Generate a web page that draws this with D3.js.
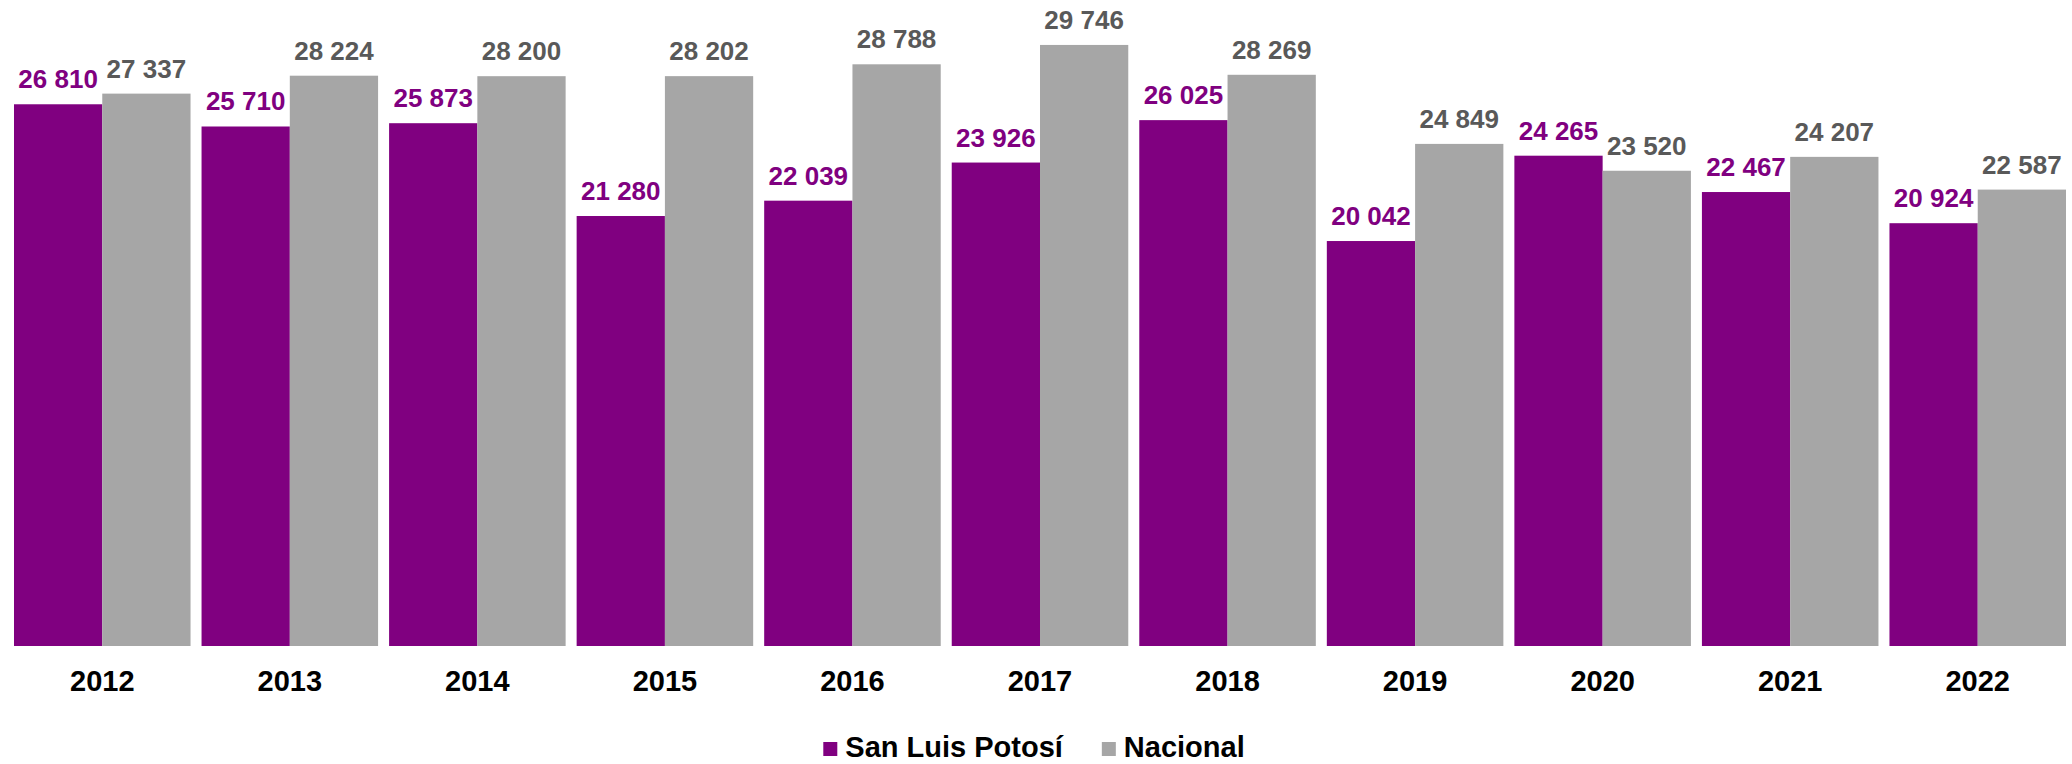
<!DOCTYPE html>
<html>
<head>
<meta charset="utf-8">
<script src="https://cdn.jsdelivr.net/npm/d3@7"></script>
<style>
  body { margin: 0; background: #fff; }
  svg { display: block; font-family: Arial, "Liberation Sans", sans-serif; }
</style>
</head>
<body>
<svg></svg>
<script>
var WIDTH = 2072;
var HEIGHT = 764;

var years = ["2012", "2013", "2014", "2015", "2016", "2017", "2018", "2019", "2020", "2021", "2022"];
var slpValues = [26810, 25710, 25873, 21280, 22039, 23926, 26025, 20042, 24265, 22467, 20924];
var nacionalValues = [27337, 28224, 28200, 28202, 28788, 29746, 28269, 24849, 23520, 24207, 22587];
var seriesNames = ["San Luis Potosí", "Nacional"];
var barColors = ["#800080", "#a6a6a6"];
var labelColors = ["#800080", "#595959"];

var svg = d3.select("svg")
    .attr("width", WIDTH)
    .attr("height", HEIGHT);

var x = d3.scaleBand()
    .domain(years)
    .range([8.5, 2071.5])
    .paddingInner(0.0587)
    .paddingOuter(0.0293);

var xSeries = d3.scaleBand()
    .domain([0, 1])
    .range([0, x.bandwidth()]);

var y = d3.scaleLinear()
    .domain([0, 32000])
    .range([646, -0.6]);

var fmt = d3.formatLocale({decimal: ".", thousands: " ", grouping: [3], currency: ["", ""]}).format(",d");

var rows = years.map(function(yr, i) {
    return {year: yr, values: [slpValues[i], nacionalValues[i]]};
});

var groups = svg.append("g")
    .selectAll("g")
    .data(rows)
    .enter()
    .append("g")
    .attr("transform", function(d) { return "translate(" + x(d.year) + ",0)"; });

var cells = groups.selectAll("g")
    .data(function(d) { return d.values.map(function(v, s) { return {s: s, v: v}; }); })
    .enter()
    .append("g");

cells.append("rect")
    .attr("x", function(d) { return xSeries(d.s); })
    .attr("y", function(d) { return y(d.v); })
    .attr("width", xSeries.bandwidth())
    .attr("height", function(d) { return y(0) - y(d.v); })
    .attr("fill", function(d) { return barColors[d.s]; });

cells.append("text")
    .attr("x", function(d) { return xSeries(d.s) + xSeries.bandwidth() / 2; })
    .attr("y", function(d) { return y(d.v) - 16; })
    .attr("text-anchor", "middle")
    .attr("font-size", 26)
    .attr("font-weight", "bold")
    .attr("fill", function(d) { return labelColors[d.s]; })
    .text(function(d) { return fmt(d.v); });

// year labels
svg.append("g")
    .selectAll("text")
    .data(years)
    .enter()
    .append("text")
    .attr("x", function(d) { return x(d) + x.bandwidth() / 2; })
    .attr("y", 690.5)
    .attr("text-anchor", "middle")
    .attr("font-size", 29)
    .attr("font-weight", "bold")
    .attr("fill", "#000")
    .text(function(d) { return d; });

// legend
var legend = svg.append("g");
var items = legend.selectAll("g")
    .data(seriesNames)
    .enter()
    .append("g");

items.append("rect")
    .attr("y", 742)
    .attr("width", 14)
    .attr("height", 14)
    .attr("fill", function(d, i) { return barColors[i]; });

items.append("text")
    .attr("x", 22)
    .attr("y", 757)
    .attr("font-size", 29)
    .attr("font-weight", "bold")
    .attr("fill", "#000")
    .text(function(d) { return d; });

var offset = 0;
items.each(function() {
    var g = d3.select(this);
    g.attr("transform", "translate(" + offset + ",0)");
    offset += 22 + g.select("text").node().getComputedTextLength() + 39;
});
var legendWidth = offset - 39;
legend.attr("transform", "translate(" + (1034 - legendWidth / 2) + ",0)");
</script>
</body>
</html>
